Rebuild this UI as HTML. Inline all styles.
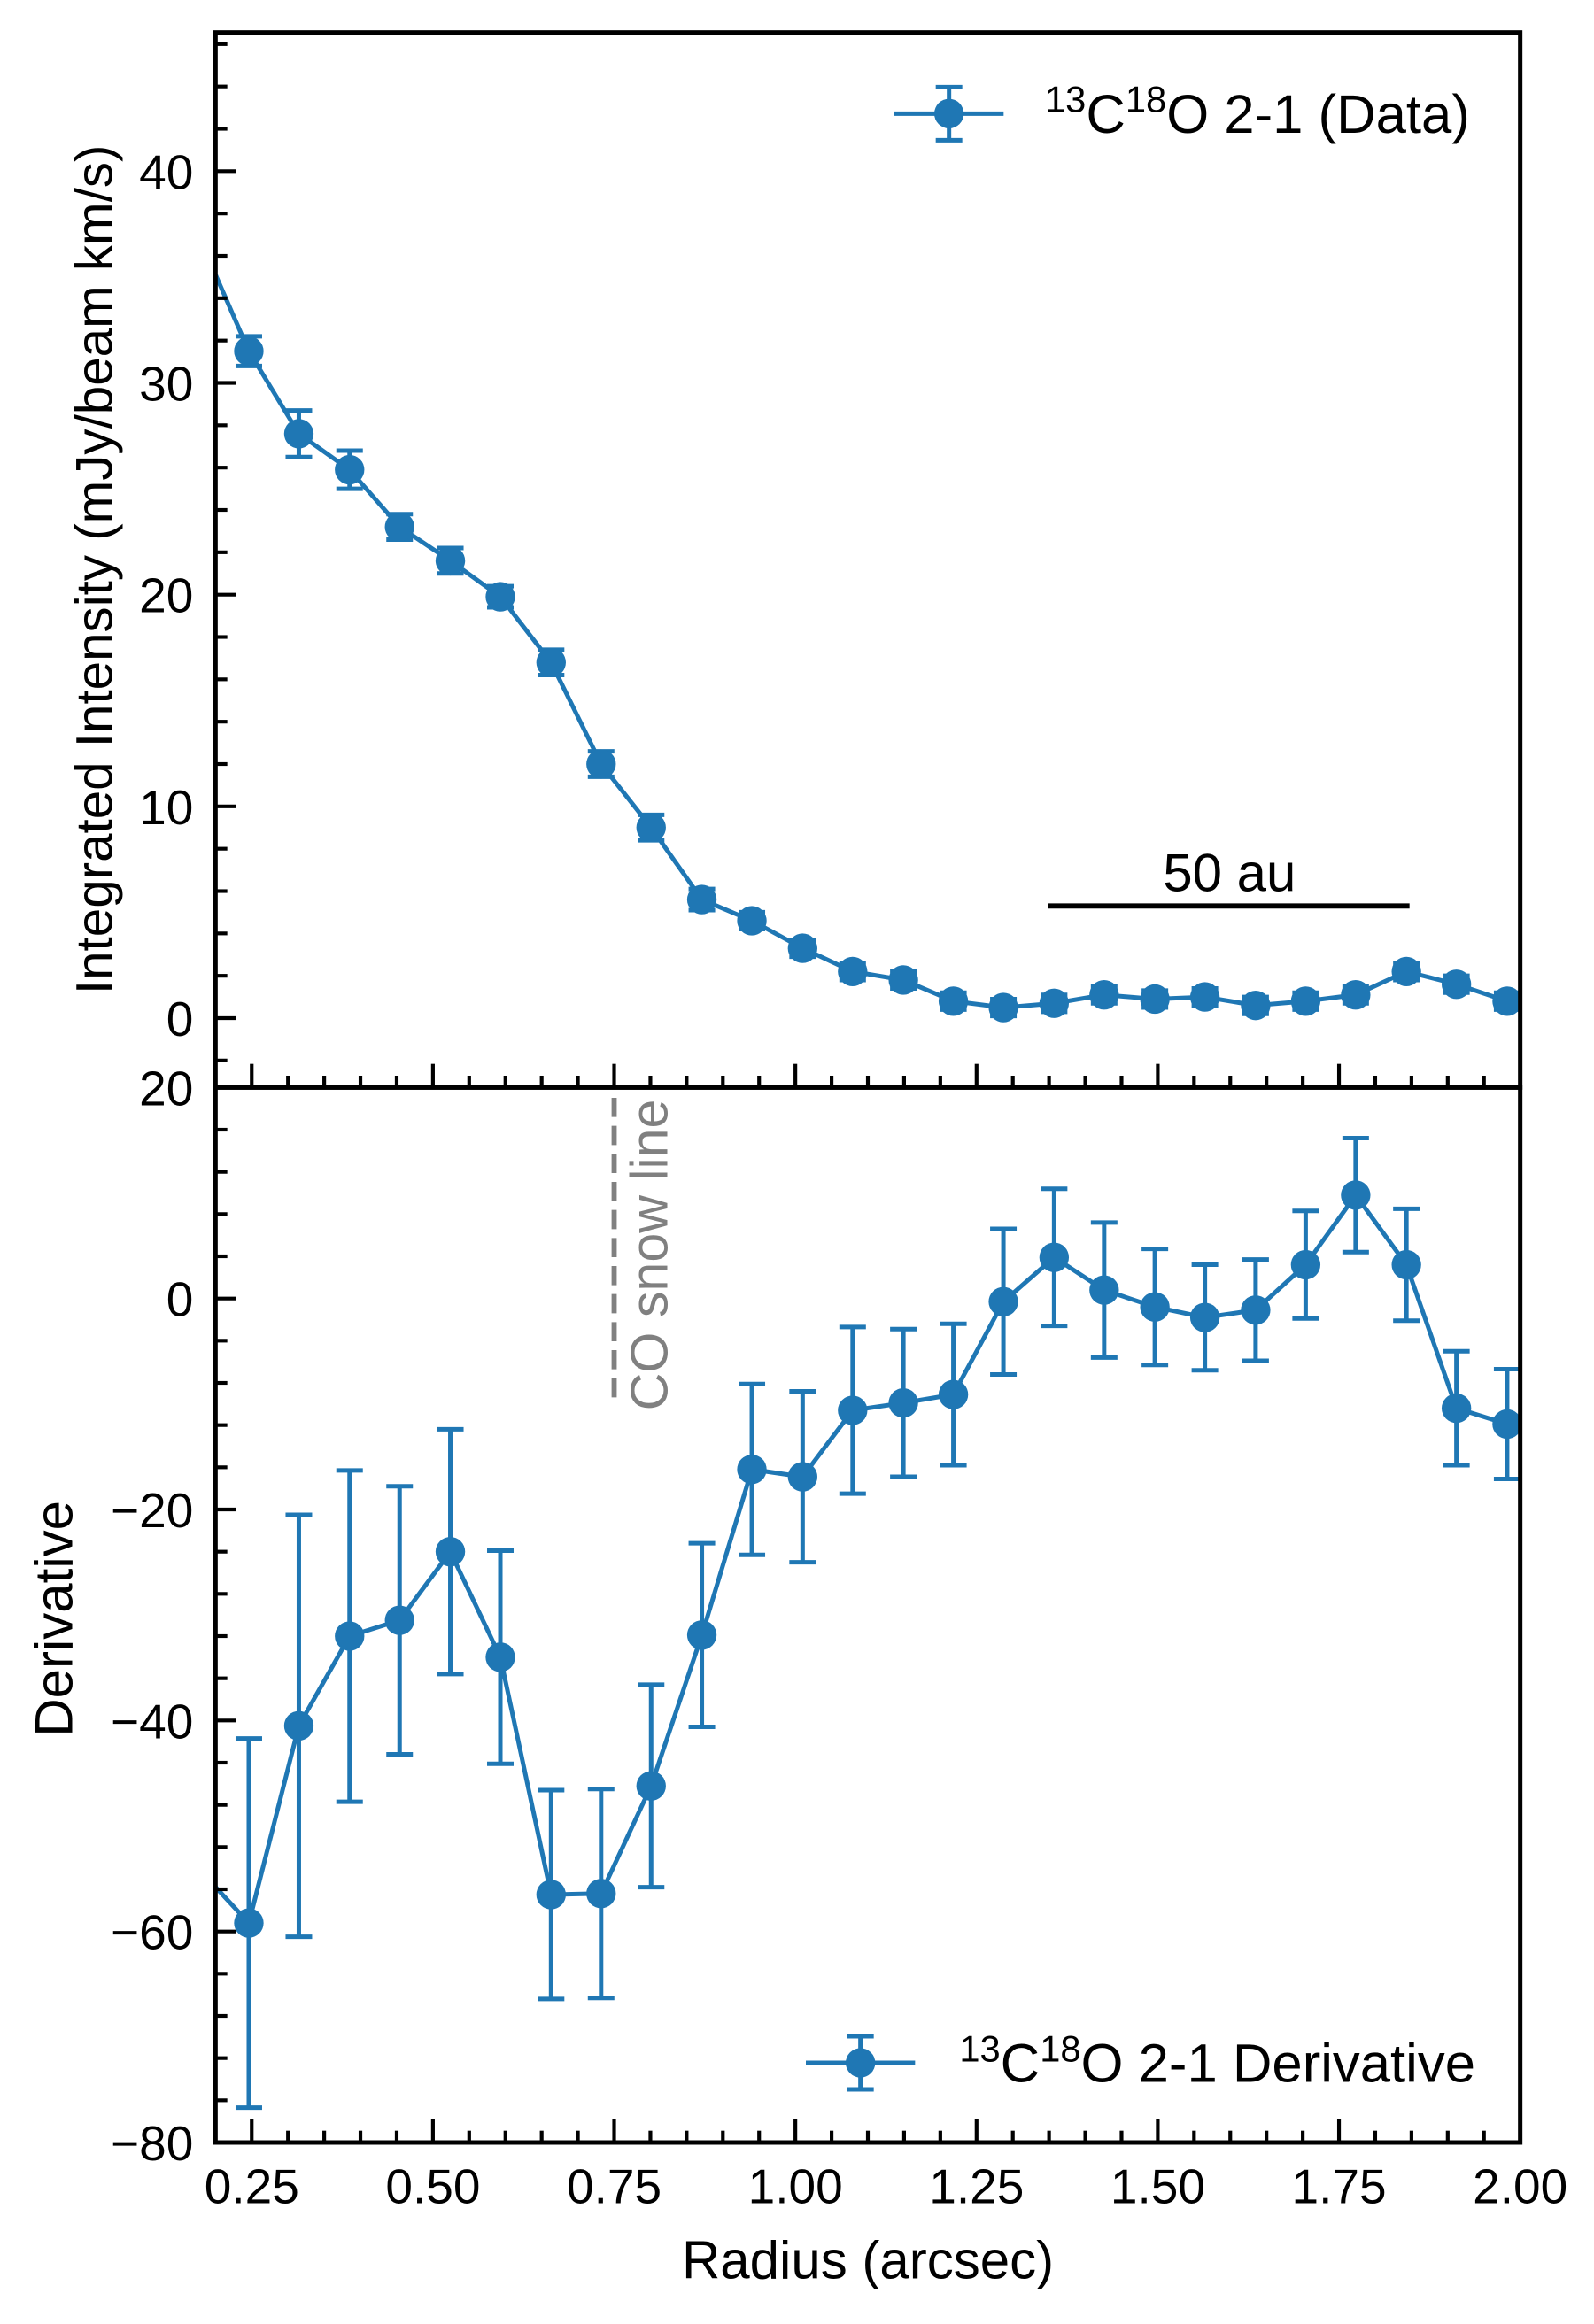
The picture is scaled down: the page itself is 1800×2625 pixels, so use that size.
<!DOCTYPE html>
<html><head><meta charset="utf-8"><style>
html,body{margin:0;padding:0;background:#fff}
svg{display:block}
text{font-family:"Liberation Sans",Arial,sans-serif;fill:#000}
</style></head><body>
<svg id="chart" width="1800" height="2625" viewBox="0 0 1080 1575" xmlns="http://www.w3.org/2000/svg">
<g id="g"></g>
</svg>
<script>
const radiusX = [0.176,0.246,0.315,0.385,0.454,0.524,0.593,0.663,0.732,0.801,0.871,0.940,1.010,1.079,1.149,1.218,1.287,1.357,1.426,1.496,1.565,1.635,1.704,1.773,1.843,1.912,1.982];
const intensity = [37.0,31.5,27.6,25.9,23.2,21.6,19.9,16.8,12.0,9.0,5.6,4.6,3.3,2.2,1.8,0.8,0.5,0.7,1.1,0.9,1.0,0.6,0.8,1.1,2.2,1.6,0.8];
const intensityErr = [0,0.7,1.1,0.9,0.6,0.6,0.5,0.6,0.6,0.6,0.5,0.4,0.4,0.4,0.4,0.4,0.4,0.4,0.4,0.4,0.4,0.4,0.4,0.4,0.4,0.4,0.4];
const derivative = [-54,-59.2,-40.5,-32,-30.5,-24,-34,-56.5,-56.4,-46.2,-31.9,-16.2,-16.9,-10.6,-9.9,-9.1,-0.3,3.9,0.8,-0.8,-1.8,-1.1,3.2,9.8,3.2,-10.4,-11.9];
const derivativeErr = [0,17.5,20,15.7,12.7,11.6,10.1,9.9,9.9,9.6,8.7,8.1,8.1,7.9,7,6.7,6.9,6.5,6.4,5.5,5,4.8,5.1,5.4,5.3,5.4,5.2];
const xTicks = [0.25,0.50,0.75,1.00,1.25,1.50,1.75,2.00];
const xTickLabels = ["0.25","0.50","0.75","1.00","1.25","1.50","1.75","2.00"];
const topTicks = [0,10,20,30,40];
const botTicks = [-80,-60,-40,-20,0,20];

const NS="http://www.w3.org/2000/svg";
const G=document.getElementById('g');
const C="#1f77b4";
function el(tag,attrs,parent){const e=document.createElementNS(NS,tag);for(const k in attrs)e.setAttribute(k,attrs[k]);(parent||G).appendChild(e);return e;}
const L=146,R=1030;
const xs=v=>L+(v-0.2)*(R-L)/1.8;
const T1=22,B1=737,ys1=v=>690-v*14.35;
const T2=737,B2=1452,ys2=v=>880-v*7.15;

function panel(name,top,bot,ys,vals,errs,ticks,minorStep,ymin,ymax){
  const grp=el('g',{'clip-path':'url(#clip-'+name+')'});
  
  
  const cp=el('clipPath',{id:'clip-'+name});
  el('rect',{x:L,y:top,width:R-L,height:bot-top},cp);
  let d='';
  radiusX.forEach((x,i)=>{d+=(i?'L':'M')+xs(x)+' '+ys(vals[i]);});
  const line=el('path',{d:d,fill:'none',stroke:C,'stroke-width':3},grp);
  
  
  radiusX.forEach((x,i)=>{
    if(i===0)return;
    const cx=xs(x),y1=ys(vals[i]+errs[i]),y2=ys(vals[i]-errs[i]);
    const eb=el('path',{d:`M${cx} ${y1}L${cx} ${y2}M${cx-9} ${y1}L${cx+9} ${y1}M${cx-9} ${y2}L${cx+9} ${y2}`,stroke:C,'stroke-width':3,fill:'none'},grp);
    
    
    const m=el('circle',{cx:cx,cy:ys(vals[i]),r:10,fill:C},grp);
    
    
  });
  for(let v=Math.ceil(ymin/minorStep)*minorStep;v<=ymax;v+=minorStep){
    const y=ys(v);if(y<top-0.5||y>bot+0.5)continue;
    const major=ticks.includes(Math.round(v*100)/100);
    el('line',{x1:L,x2:L+(major?14:8),y1:y,y2:y,stroke:'#000','stroke-width':2.5});
  }
  ticks.forEach(v=>{
    const t=el('text',{x:131,y:ys(v)+12,'text-anchor':'end','font-size':33});
    t.textContent=v<0?'\u2212'+(-v):String(v);
    
    
  });
  for(let k=1;k<=36;k++){
    const v=0.2+k*0.05;const x=xs(v);
    const major=xTicks.some(t=>Math.abs(t-v)<1e-6);
    el('line',{x1:x,x2:x,y1:bot,y2:bot-(major?16:8),stroke:'#000','stroke-width':2.5});
  }
  const f=el('rect',{x:L,y:top,width:R-L,height:bot-top,fill:'none',stroke:'#000','stroke-width':3});
  
  
}
panel('intensity',T1,B1,ys1,intensity,intensityErr,topTicks,2,-4,48);
panel('derivative',T2,B2,ys2,derivative,derivativeErr,botTicks,4,-80,20);

xTicks.forEach((v,i)=>{
  const t=el('text',{x:xs(v),y:1493,'text-anchor':'middle','font-size':33});
  t.textContent=xTickLabels[i];
  
  
});

const sb=el('line',{x1:710,x2:955,y1:614,y2:614,stroke:'#000','stroke-width':3.5});


const sbt=el('text',{x:833,y:604,'text-anchor':'middle','font-size':36});
sbt.textContent='50 au';



const sl=el('line',{x1:xs(0.75),x2:xs(0.75),y1:744,y2:952,stroke:'#808080','stroke-width':3.5,'stroke-dasharray':'13,6'});


const slt=el('text',{x:0,y:0,'font-size':35.5,transform:'translate(452,956) rotate(-90)'});
slt.setAttribute('style','fill:#808080');
slt.textContent='CO snow line';



function legend(name,cx,cy,tx,label){
  const g=el('g',{});
  
  
  el('path',{d:`M${cx-37} ${cy}L${cx+37} ${cy}M${cx} ${cy-18}L${cx} ${cy+18}M${cx-9} ${cy-18}L${cx+9} ${cy-18}M${cx-9} ${cy+18}L${cx+9} ${cy+18}`,stroke:C,'stroke-width':3,fill:'none'},g);
  el('circle',{cx:cx,cy:cy,r:10,fill:C},g);
  const t=el('text',{x:tx,y:cy+13,'font-size':37},g);
  t.innerHTML='<tspan dy="-14" font-size="25">13</tspan><tspan dy="14">C</tspan><tspan dy="-14" font-size="25">18</tspan><tspan dy="14">O '+label+'</tspan>';
}
legend('legend-data',643,77,708,'2-1 (Data)');
legend('legend-derivative',583,1398,650,'2-1 Derivative');

const yl1=el('text',{x:0,y:0,'font-size':35,'text-anchor':'middle',transform:'translate(76,386) rotate(-90)'});
yl1.textContent='Integrated Intensity (mJy/beam km/s)';


const yl2=el('text',{x:0,y:0,'font-size':36,'text-anchor':'middle',transform:'translate(49,1097) rotate(-90)'});
yl2.textContent='Derivative';


const xl=el('text',{x:588,y:1544,'font-size':36,'text-anchor':'middle'});
xl.textContent='Radius (arcsec)';


</script>
</body></html>
